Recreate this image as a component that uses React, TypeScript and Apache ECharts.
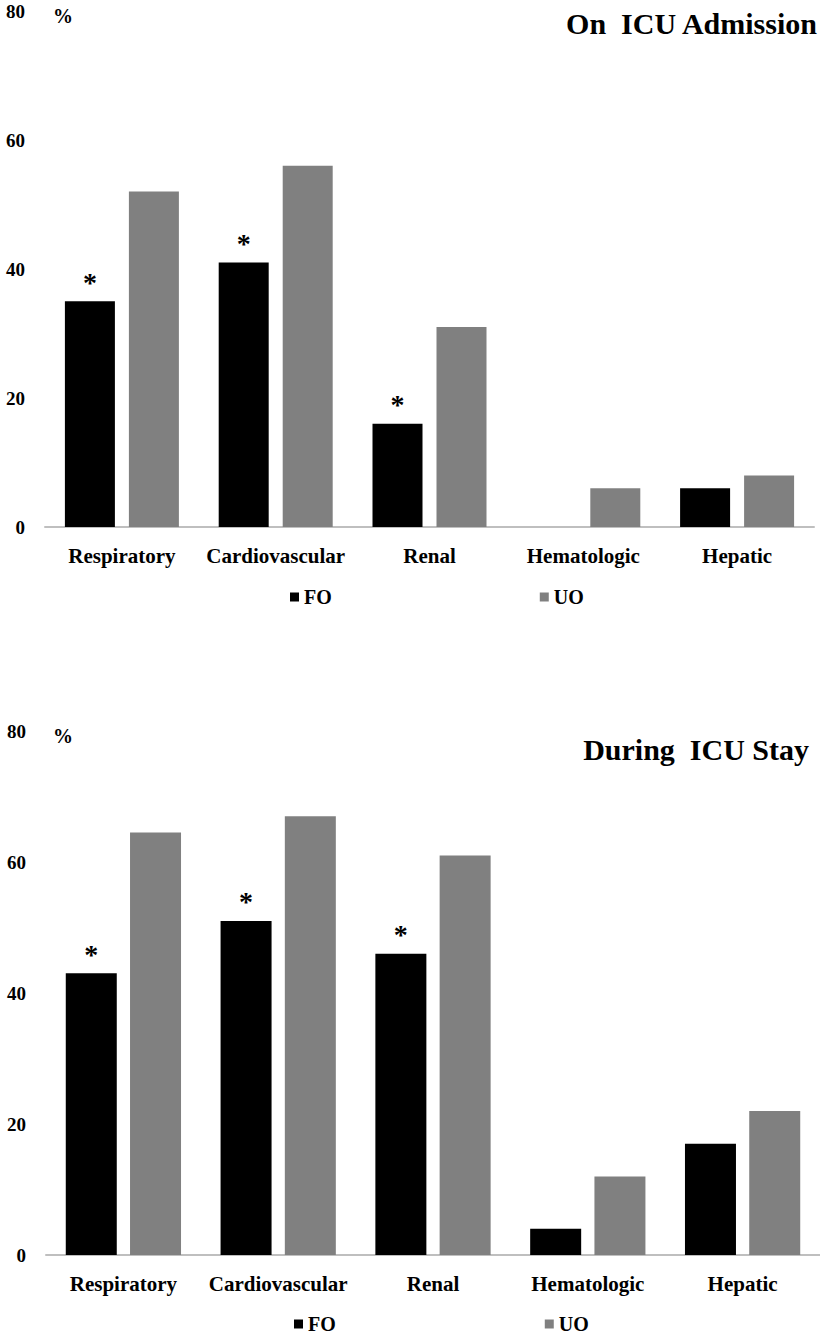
import React, { useEffect, useRef } from "react";
import * as echarts from "echarts";

const categories = ["Respiratory", "Cardiovascular", "Renal", "Hematologic", "Hepatic"];
const admissionFO = [35, 41, 16, 0, 6];
const admissionUO = [52, 56, 31, 6, 8];
const stayFO = [43, 51, 46, 4, 17];
const stayUO = [64.5, 67, 61, 12, 22];
const admissionSig = [true, true, true, false, false];
const staySig = [true, true, true, false, false];
const seriesNames = ["FO", "UO"];
const titles = ["On  ICU Admission", "During  ICU Stay"];
const unitLabel = "%";
const yMin = 0;
const yMax = 80;
const yInterval = 20;

const FONT = '"Liberation Serif", "Times New Roman", serif';
const BLACK = "#000000";
const GRAY = "#808080";

export default function App() {
  const ref = useRef<HTMLDivElement>(null);

  useEffect(() => {
    if (!ref.current) return;
    const chart = echarts.init(ref.current, null, { renderer: "svg" });

    const grids = [
      { left: 45, top: 11, width: 769, height: 516 },
      { left: 46, top: 731, width: 779, height: 524 },
    ];

    const makeX = (gi: number) => ({
      type: "category",
      gridIndex: gi,
      data: categories,
      axisLine: { show: true, lineStyle: { color: "#bfbfbf", width: 2 } },
      axisTick: { show: false },
      axisLabel: {
        margin: 18,
        fontFamily: FONT,
        fontWeight: "bold",
        fontSize: 21,
        color: "#000",
        interval: 0,
      },
      splitLine: { show: false },
    });

    const makeY = (gi: number) => ({
      type: "value",
      gridIndex: gi,
      min: yMin,
      max: yMax,
      interval: yInterval,
      axisLine: { show: false },
      axisTick: { show: false },
      splitLine: { show: false },
      axisLabel: {
        margin: 20,
        fontFamily: FONT,
        fontWeight: "bold",
        fontSize: 19,
        color: "#000",
        padding: [6, 0, 0, 0],
      },
    });

    const sigData = (vals: number[], sig: boolean[]) =>
      vals.map((v, i) => ({
        value: v,
        label: {
          show: sig[i],
          position: "top",
          distance: 5,
          formatter: "*",
          fontFamily: FONT,
          fontWeight: "bold",
          fontSize: 28,
          color: "#000",
        },
      }));

    const barBase = (gi: number, width: number, gap: string) => ({
      type: "bar",
      xAxisIndex: gi,
      yAxisIndex: gi,
      barWidth: width,
      barGap: gap,
    });

    const legendBase = (top: number, left: number, gap: number) => ({
      data: seriesNames,
      top,
      left,
      orient: "horizontal",
      itemGap: gap,
      itemWidth: 9,
      itemHeight: 9,
      icon: "rect",
      selectedMode: false,
      textStyle: {
        fontFamily: FONT,
        fontWeight: "bold",
        fontSize: 20,
        color: "#000",
      },
    });

    const gText = (text: string, x: number, y: number, size: number, align: string) => ({
      type: "text",
      x,
      y,
      style: {
        text,
        fontFamily: FONT,
        fontWeight: "bold",
        fontSize: size,
        fill: "#000",
        textAlign: align,
        textVerticalAlign: "middle",
      },
    });

    chart.setOption({
      animation: false,
      backgroundColor: "#ffffff",
      grid: grids,
      xAxis: [makeX(0), makeX(1)],
      yAxis: [makeY(0), makeY(1)],
      legend: [legendBase(582, 285, 208), legendBase(1309, 289, 209)],
      series: [
        {
          ...barBase(0, 50, "28%"),
          name: seriesNames[0],
          itemStyle: { color: BLACK },
          data: sigData(admissionFO, admissionSig),
        },
        {
          ...barBase(0, 50, "28%"),
          name: seriesNames[1],
          itemStyle: { color: GRAY },
          data: admissionUO,
        },
        {
          ...barBase(1, 51, "26%"),
          name: seriesNames[0],
          itemStyle: { color: BLACK },
          data: sigData(stayFO, staySig),
        },
        {
          ...barBase(1, 51, "26%"),
          name: seriesNames[1],
          itemStyle: { color: GRAY },
          data: stayUO,
        },
      ],
      graphic: [
        gText(unitLabel, 53, 16, 20, "left"),
        gText(unitLabel, 53, 736, 20, "left"),
        gText(titles[0], 817, 23, 30, "right"),
        gText(titles[1], 809, 749, 30, "right"),
      ],
    } as any);

    return () => chart.dispose();
  }, []);

  return (
    <div
      ref={ref}
      style={{ position: "absolute", left: 0, top: 0, width: 820, height: 1337, background: "#fff" }}
    />
  );
}
